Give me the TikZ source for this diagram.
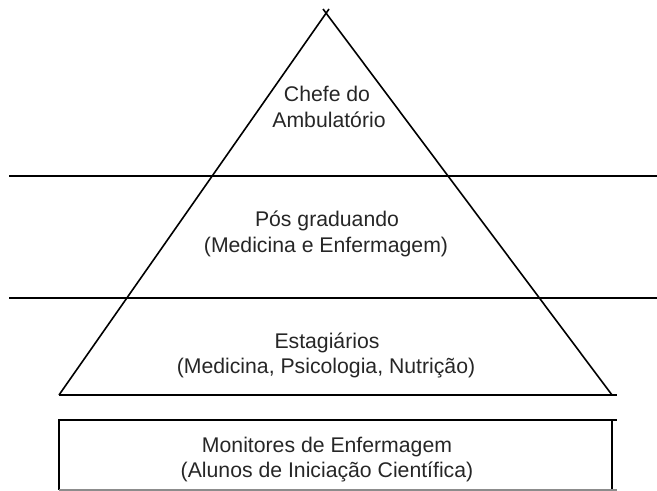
\documentclass[tikz,border=0pt]{standalone}
\usepackage{fontspec}
\setmainfont{Liberation Sans}
\begin{document}
\begin{tikzpicture}[x=1bp,y=-1bp,
  lbl/.style={anchor=base,inner sep=0pt,font=\fontsize{21.3}{26}\selectfont,text=black!85},
  tri/.style={line width=1.6bp,line cap=butt},
  band/.style={line width=2.2bp},
  boxline/.style={line width=2.2bp}]
\useasboundingbox (0,0) rectangle (657,491);
% triangle
\coordinate (L) at (59,395);
\coordinate (R) at (612,395);
\coordinate (A1) at (329,9);
\coordinate (A2) at (323,9);
\draw[tri] (L) -- (A1);
\draw[tri] (R) -- (A2);
\draw[band] (59,395) -- (617,395);
% horizontal bands
\draw[band] (9,176) -- (657,176);
\draw[band] (9,298) -- (657,298);
% bottom box
\draw[boxline] (59,490) -- (59,420) -- (617,420);
\draw[boxline] (612,420) -- (612,490);
\draw[line width=1.2bp,black!45] (59,490) -- (617,490);
% labels
\node[lbl] (c1) at (327,102) {Chefe do};
\node[lbl] (c2) at (329,128) {Ambulatório};
\node[lbl] (p1) at (327,227) {Pós graduando};
\node[lbl] (p2) at (326,253) {(Medicina e Enfermagem)};
\node[lbl] (e1) at (327,348) {Estagiários};
\node[lbl] (e2) at (326,373) {(Medicina, Psicologia, Nutrição)};
\node[lbl] (m1) at (327,452) {Monitores de Enfermagem};
\node[lbl] (m2) at (327,477) {(Alunos de Iniciação Científica)};
\end{tikzpicture}
\end{document}
